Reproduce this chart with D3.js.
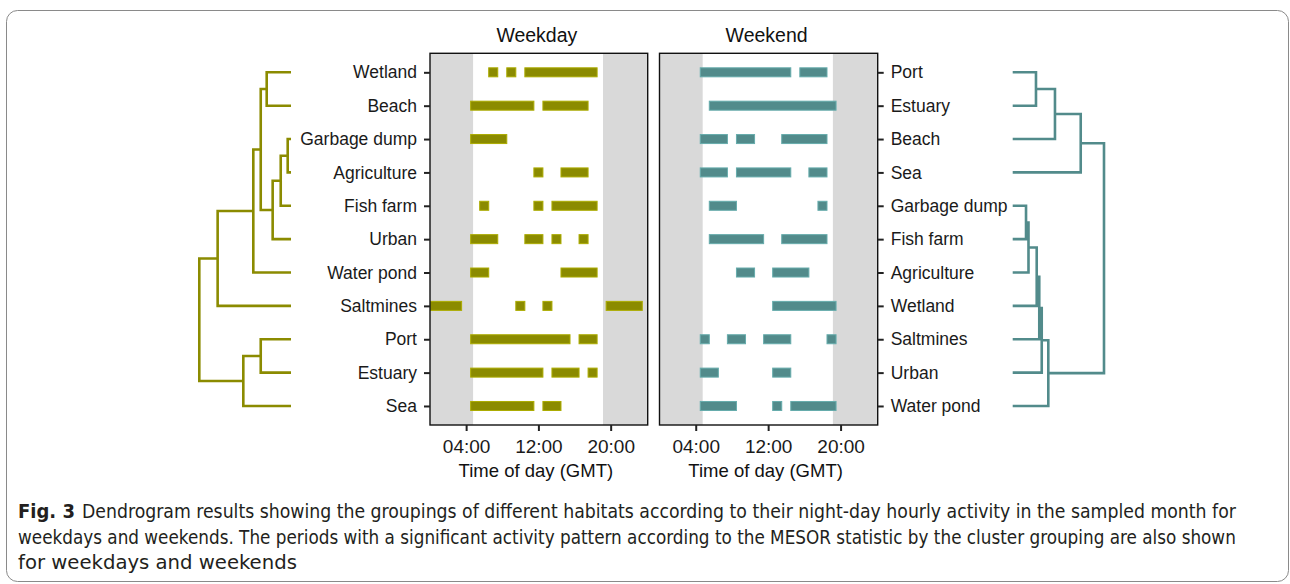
<!DOCTYPE html>
<html>
<head>
<meta charset="utf-8">
<script src="https://cdn.jsdelivr.net/npm/d3@7/dist/d3.min.js"></script>
<style>
  html, body { margin: 0; padding: 0; background: #fff; }
  svg { display: block; }
</style>
</head>
<body>
<svg id="chart" width="1290" height="584"></svg>
<script>
// ---------------- DATA ----------------
const weekdayHabitats = ["Wetland","Beach","Garbage dump","Agriculture","Fish farm","Urban","Water pond","Saltmines","Port","Estuary","Sea"];
const weekendHabitats = ["Port","Estuary","Beach","Sea","Garbage dump","Fish farm","Agriculture","Wetland","Saltmines","Urban","Water pond"];

// significant activity runs [firstHour, lastHour] per habitat (same order as above)
const weekdayRuns = [
  [[7,7],[9,9],[11,18]],          // Wetland
  [[5,11],[13,17]],               // Beach
  [[5,8]],                        // Garbage dump
  [[12,12],[15,17]],              // Agriculture
  [[6,6],[12,12],[14,18]],        // Fish farm
  [[5,7],[11,12],[14,14],[17,17]],// Urban
  [[5,6],[15,18]],                // Water pond
  [[0,3],[10,10],[13,13],[20,23]],// Saltmines
  [[5,15],[17,18]],               // Port
  [[5,12],[14,16],[18,18]],       // Estuary
  [[5,11],[13,14]]                // Sea
];
const weekendRuns = [
  [[5,14],[16,18]],               // Port
  [[6,19]],                       // Estuary
  [[5,7],[9,10],[14,18]],         // Beach
  [[5,7],[9,14],[17,18]],         // Sea
  [[6,8],[18,18]],                // Garbage dump
  [[6,11],[14,18]],               // Fish farm
  [[9,10],[13,16]],               // Agriculture
  [[13,19]],                      // Wetland
  [[5,5],[8,9],[12,14],[19,19]],  // Saltmines
  [[5,6],[13,14]],                // Urban
  [[5,8],[13,13],[15,19]]         // Water pond
];

// night periods (hours)
const nightPeriods = [[0, 4.77], [19.15, 24.1]];
const hourDomain = [0, 24.1];
const xTickValues = [4, 12, 20];
const xTickLabels = ["04:00", "12:00", "20:00"];

// dendrogram merges: [childA, childB, height]; child = leaf name or index of earlier merge
const weekdayMerge = [
  ["Garbage dump","Agriculture",0.036], // 0
  [0,"Fish farm",0.112],                // 1
  [1,"Urban",0.200],                    // 2
  ["Wetland","Beach",0.265],            // 3
  [3,2,0.330],                          // 4
  [4,"Water pond",0.411],               // 5
  ["Port","Estuary",0.330],             // 6
  [6,"Sea",0.520],                      // 7
  [5,"Saltmines",0.800],                // 8
  [8,7,1.000]                           // 9
];
const weekendMerge = [
  ["Port","Estuary",0.255],             // 0
  [0,"Beach",0.463],                    // 1
  [1,"Sea",0.745],                      // 2
  ["Garbage dump","Fish farm",0.146],   // 3
  [3,"Agriculture",0.173],              // 4
  [4,"Wetland",0.263],                  // 5
  [5,"Saltmines",0.291],                // 6
  [6,"Urban",0.318],                    // 7
  [7,"Water pond",0.390],               // 8
  [2,8,1.000]                           // 9
];

const panelTitles = ["Weekday", "Weekend"];
const xAxisTitle = "Time of day (GMT)";
const captionBold = "Fig. 3";
const captionLines = [
  "Dendrogram results showing the groupings of different habitats according to their night-day hourly activity in the sampled month for",
  "weekdays and weekends. The periods with a significant activity pattern according to the MESOR statistic by the cluster grouping are also shown",
  "for weekdays and weekends"
];

// ---------------- STYLE / LAYOUT ----------------
const olive = "#8B8B00";
const teal = "#528B8B";
const nightFill = "#D9D9D9";
const font = "'Liberation Sans', Arial, Helvetica, sans-serif";
const panelTop = 53.3, panelBottom = 425;

const svg = d3.select("#chart");
svg.append("rect").attr("width", 1290).attr("height", 584).attr("fill", "#fff");

// outer frame
svg.append("rect")
  .attr("x", 6.5).attr("y", 10.5).attr("width", 1282).attr("height", 571)
  .attr("rx", 11).attr("ry", 11)
  .attr("fill", "none").attr("stroke", "#8a8a8a").attr("stroke-width", 1);

function drawPanel(cfg) {
  const x = d3.scaleLinear().domain(hourDomain).range([cfg.x0, cfg.x1]);
  const y = d3.scalePoint().domain(cfg.habitats).range([panelTop, panelBottom]).padding(0.57);
  const g = svg.append("g");
  const clipId = "clip-" + cfg.id;
  svg.append("clipPath").attr("id", clipId)
    .append("rect").attr("x", cfg.x0).attr("y", panelTop).attr("width", cfg.x1 - cfg.x0).attr("height", panelBottom - panelTop);

  g.append("rect").attr("x", cfg.x0).attr("y", panelTop).attr("width", cfg.x1 - cfg.x0).attr("height", panelBottom - panelTop).attr("fill", "#fff");
  g.selectAll("rect.night").data(nightPeriods).join("rect")
    .attr("class", "night")
    .attr("x", d => x(d[0])).attr("width", d => x(d[1]) - x(d[0]))
    .attr("y", panelTop).attr("height", panelBottom - panelTop)
    .attr("fill", nightFill);

  const step = y.step();
  const barH = step * 0.27;
  const bars = [];
  cfg.habitats.forEach((h, i) => cfg.runs[i].forEach(r => bars.push({h, s: r[0], e: r[1]})));
  g.append("g").attr("clip-path", `url(#${clipId})`)
    .selectAll("rect").data(bars).join("rect")
    .attr("x", d => x(Math.max(hourDomain[0], d.s - 0.5)))
    .attr("width", d => x(Math.min(hourDomain[1], d.e + 0.5)) - x(Math.max(hourDomain[0], d.s - 0.5)))
    .attr("y", d => y(d.h) - barH / 2)
    .attr("height", barH)
    .attr("fill", cfg.color)
    .attr("stroke", d3.color(cfg.color).brighter(0.6))
    .attr("stroke-width", 1);

  g.append("rect").attr("x", cfg.x0).attr("y", panelTop).attr("width", cfg.x1 - cfg.x0).attr("height", panelBottom - panelTop)
    .attr("fill", "none").attr("stroke", "#111").attr("stroke-width", 1.4);

  const yAxis = (cfg.side === "left" ? d3.axisLeft(y) : d3.axisRight(y)).tickSize(6).tickPadding(7);
  const ya = g.append("g").attr("transform", `translate(${cfg.side === "left" ? cfg.x0 : cfg.x1},0)`).call(yAxis);
  ya.select(".domain").remove();
  ya.selectAll(".tick line").attr("stroke", "#222").attr("stroke-width", 2);
  ya.selectAll(".tick text").attr("font-family", font).attr("font-size", 17.5).attr("fill", "#1a1a1a");

  const xAxis = d3.axisBottom(x).tickValues(xTickValues).tickFormat((d, i) => xTickLabels[i]).tickSize(6).tickPadding(9);
  const xa = g.append("g").attr("transform", `translate(0,${panelBottom})`).call(xAxis);
  xa.select(".domain").remove();
  xa.selectAll(".tick line").attr("stroke", "#222").attr("stroke-width", 2);
  xa.selectAll(".tick text").attr("font-family", font).attr("font-size", 19).attr("fill", "#1a1a1a");

  const cx = (cfg.x0 + cfg.x1) / 2;
  g.append("text").attr("x", cx - 2).attr("y", 42).attr("text-anchor", "middle")
    .attr("font-family", font).attr("font-size", 19.5).attr("fill", "#111").text(cfg.title);
  g.append("text").attr("x", cx - 3).attr("y", 477).attr("text-anchor", "middle")
    .attr("font-family", font).attr("font-size", 18.5).attr("fill", "#111").text(xAxisTitle);

  return y;
}

function drawDendro(merge, yScale, leafX, rootX, color) {
  const x = d3.scaleLinear().domain([0, 1]).range([leafX, rootX]);
  const nodes = [];
  const pos = c => typeof c === "number" ? nodes[c] : {y: yScale(c), h: 0};
  const path = d3.path();
  merge.forEach(m => {
    const a = pos(m[0]), b = pos(m[1]);
    const xh = x(m[2]);
    path.moveTo(x(a.h), a.y); path.lineTo(xh, a.y); path.lineTo(xh, b.y); path.lineTo(x(b.h), b.y);
    nodes.push({y: (a.y + b.y) / 2, h: m[2]});
  });
  svg.append("path").attr("d", path.toString())
    .attr("fill", "none").attr("stroke", color).attr("stroke-width", 2.6)
    .attr("stroke-linejoin", "miter").attr("stroke-linecap", "butt");
}

const yL = drawPanel({id: "wd", x0: 430, x1: 647.7, habitats: weekdayHabitats, runs: weekdayRuns, color: olive, side: "left", title: panelTitles[0]});
const yR = drawPanel({id: "we", x0: 659.5, x1: 877.7, habitats: weekendHabitats, runs: weekendRuns, color: teal, side: "right", title: panelTitles[1]});

drawDendro(weekdayMerge, yL, 291, 199.3, olive);
drawDendro(weekendMerge, yR, 1012.7, 1104, teal);

// caption: condensed look obtained by horizontally scaling each line to its width
const capFont = "'DejaVu Sans Condensed', 'Liberation Sans', sans-serif";
const capSize = 19.5;
function capText(str, x, y, targetW, bold) {
  const t = svg.append("text").attr("x", 0).attr("y", 0)
    .attr("font-family", capFont).attr("font-size", capSize)
    .attr("font-weight", bold ? "bold" : "normal")
    .attr("fill", "#231f20").text(str);
  const w = t.node().getComputedTextLength();
  t.attr("transform", `translate(${x},${y}) scale(${targetW / w},1)`);
}
const capY = [518, 544, 569];
const capX = [82, 18, 18];
const capW = [1155, 1218, 279];
capText(captionBold, 18, capY[0], 57, true);
captionLines.forEach((t, i) => capText(t, capX[i], capY[i], capW[i], false));
</script>
</body>
</html>
